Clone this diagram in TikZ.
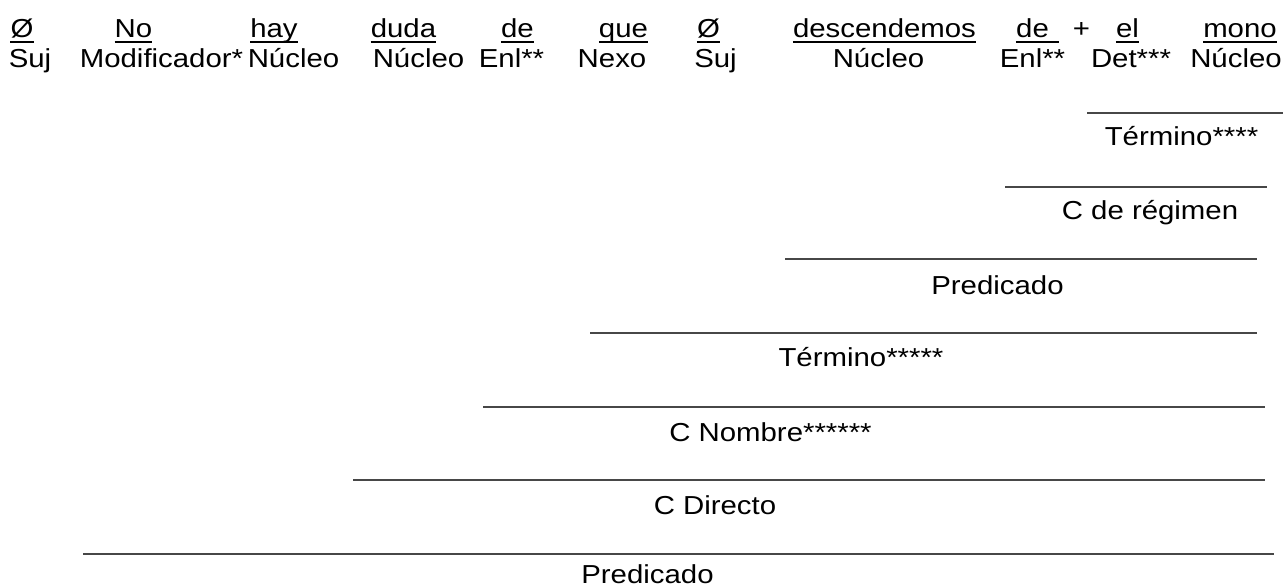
\documentclass[tikz,border=0pt]{standalone}
\usepackage{fontspec}
\setmainfont[FakeStretch=1.13]{Liberation Sans}
\begin{document}
\begin{tikzpicture}[x=1pt,y=-1pt,
  wd/.style={anchor=base,inner sep=0pt,font=\fontsize{26}{30}\selectfont},
  rulel/.style={line width=2pt,draw=black!72},
  ul/.style={line width=2pt,draw=black}]
\useasboundingbox (0,0) rectangle (1286,587);
% row 1: words
\node[wd] (w1)  at (22,37.3)    {Ø};
\node[wd] (w2)  at (133.5,37.3) {No};
\node[wd] (w3)  at (274,37.3)   {hay};
\node[wd] (w4)  at (403.5,37.3) {duda};
\node[wd] (w5)  at (517.5,37.3) {de};
\node[wd] (w6)  at (623.5,37.3) {que};
\node[wd] (w7)  at (708.5,37.3) {Ø};
\node[wd] (w8)  at (884.5,37.3) {descendemos};
\node[wd] (w9)  at (1032.5,37.3){de};
\node[wd] (wp)  at (1081.5,37.3){+};
\node[wd] (w10) at (1127.5,37.3){el};
\node[wd] (w11) at (1240,37.3)  {mono};
\foreach \w in {w1,w2,w3,w4,w5,w6,w7,w8,w10,w11}
  \draw[ul] ([yshift=-4.4pt]\w.base west) -- ([yshift=-4.4pt]\w.base east);
\draw[ul] ([yshift=-4.4pt]w9.base west) -- ([yshift=-4.4pt,xshift=10pt]w9.base east);
% row 2: functions
\node[wd] (f1)  at (30,67.7)    {Suj};
\node[wd] (f2)  at (161.5,67.7) {Modificador*};
\node[wd] (f3)  at (293.5,67.7) {Núcleo};
\node[wd] (f4)  at (418.5,67.7) {Núcleo};
\node[wd] (f5)  at (511.5,67.7) {Enl**};
\node[wd] (f6)  at (612,67.7)   {Nexo};
\node[wd] (f7)  at (715.5,67.7) {Suj};
\node[wd] (f8)  at (878.5,67.7) {Núcleo};
\node[wd] (f9)  at (1032.5,67.7){Enl**};
\node[wd] (f10) at (1131,67.7)  {Det***};
\node[wd] (f11) at (1236,67.7)  {Núcleo};
% bracket rules and labels
\draw[rulel] (1087,113.3) -- (1283,113.3);
\node[wd] (l1) at (1181.5,145.7) {Término****};
\draw[rulel] (1005,186.7) -- (1267,186.7);
\node[wd] (l2) at (1150,219.3) {C de régimen};
\draw[rulel] (785,259.3) -- (1257,259.3);
\node[wd] (l3) at (997.5,294.3) {Predicado};
\draw[rulel] (590,332.7) -- (1257,332.7);
\node[wd] (l4) at (861,366.7) {Término*****};
\draw[rulel] (483,406.5) -- (1265,406.5);
\node[wd] (l5) at (770.5,441) {C Nombre******};
\draw[rulel] (353,480.3) -- (1265,480.3);
\node[wd] (l6) at (715,514) {C Directo};
\draw[rulel] (83,553.5) -- (1274,553.5);
\node[wd] (l7) at (647.5,583.5) {Predicado};
\end{tikzpicture}
\end{document}
